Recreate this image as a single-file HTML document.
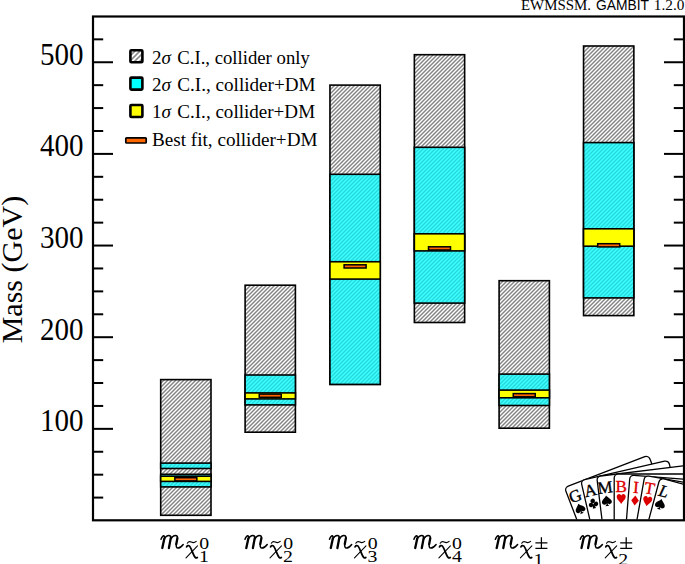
<!DOCTYPE html>
<html><head><meta charset="utf-8"><style>
html,body{margin:0;padding:0;background:#fff;}
svg{display:block;}
text{font-family:"Liberation Serif",serif;fill:#000;}
.tl{font-size:30.5px;}
.al{font-size:30px;}
.hd{font-size:14.2px;}
.hs{font-size:14px;font-family:"Liberation Sans",sans-serif;}
.lg{font-size:19px;}
.xm{font-size:29px;font-style:italic;}
.xc{font-size:20.5px;font-style:italic;}
.xs{font-size:16.5px;}
.cd{font-size:17px;}
.cdl{font-size:17px;font-style:italic;}
</style></head><body>
<svg width="685" height="564" viewBox="0 0 685 564">
<defs>
<pattern id="hg" patternUnits="userSpaceOnUse" width="4" height="4">
<rect width="4" height="4" fill="#fff"/>
<path d="M-1,1 l2,-2 M0,4 l4,-4 M3,5 l2,-2" stroke="#848484" stroke-width="1.45"/>
</pattern>
<pattern id="hgl" patternUnits="userSpaceOnUse" width="5" height="5" x="1">
<rect width="5" height="5" fill="#fff"/>
<path d="M-1,1 l2,-2 M0,5 l5,-5 M4,6 l2,-2" stroke="#8c8c8c" stroke-width="1.6"/>
</pattern>
<pattern id="hc" patternUnits="userSpaceOnUse" width="4" height="4">
<rect width="4" height="4" fill="#3cffff"/>
<path d="M-1,1 l2,-2 M0,4 l4,-4 M3,5 l2,-2" stroke="#26d8dc" stroke-width="1.4"/>
</pattern>
<clipPath id="lc"><rect x="540" y="440" width="143" height="79.5"/></clipPath>
</defs>
<rect x="160.70" y="379.6" width="50.3" height="135.70" fill="url(#hg)" stroke="#000" stroke-width="1.6"/>
<rect x="160.70" y="463.1" width="50.3" height="5.40" fill="url(#hc)" stroke="#000" stroke-width="1.6"/>
<rect x="160.70" y="474.3" width="50.3" height="12.60" fill="url(#hc)" stroke="#000" stroke-width="1.6"/>
<rect x="160.70" y="476.2" width="50.3" height="5.20" fill="#ffff00" stroke="#000" stroke-width="1.6"/>
<rect x="174.85" y="477.70" width="22" height="3.2" fill="#ff6600" stroke="#000" stroke-width="1.5"/>
<rect x="245.10" y="285.2" width="50.3" height="147.00" fill="url(#hg)" stroke="#000" stroke-width="1.6"/>
<rect x="245.10" y="375.0" width="50.3" height="29.90" fill="url(#hc)" stroke="#000" stroke-width="1.6"/>
<rect x="245.10" y="392.9" width="50.3" height="6.00" fill="#ffff00" stroke="#000" stroke-width="1.6"/>
<rect x="259.25" y="394.10" width="22" height="3.2" fill="#ff6600" stroke="#000" stroke-width="1.5"/>
<rect x="329.95" y="85.1" width="50.3" height="299.30" fill="url(#hg)" stroke="#000" stroke-width="1.6"/>
<rect x="329.95" y="174.3" width="50.3" height="210.10" fill="url(#hc)" stroke="#000" stroke-width="1.6"/>
<rect x="329.95" y="261.75" width="50.3" height="17.35" fill="#ffff00" stroke="#000" stroke-width="1.6"/>
<rect x="344.10" y="264.80" width="22" height="3.2" fill="#ff6600" stroke="#000" stroke-width="1.5"/>
<rect x="414.35" y="54.7" width="50.3" height="267.80" fill="url(#hg)" stroke="#000" stroke-width="1.6"/>
<rect x="414.35" y="147.3" width="50.3" height="155.80" fill="url(#hc)" stroke="#000" stroke-width="1.6"/>
<rect x="414.35" y="233.8" width="50.3" height="17.10" fill="#ffff00" stroke="#000" stroke-width="1.6"/>
<rect x="428.50" y="246.80" width="22" height="3.2" fill="#ff6600" stroke="#000" stroke-width="1.5"/>
<rect x="499.10" y="280.7" width="50.3" height="147.50" fill="url(#hg)" stroke="#000" stroke-width="1.6"/>
<rect x="499.10" y="374.1" width="50.3" height="31.40" fill="url(#hc)" stroke="#000" stroke-width="1.6"/>
<rect x="499.10" y="390.1" width="50.3" height="7.70" fill="#ffff00" stroke="#000" stroke-width="1.6"/>
<rect x="513.25" y="393.60" width="22" height="3.2" fill="#ff6600" stroke="#000" stroke-width="1.5"/>
<rect x="583.55" y="46.0" width="50.3" height="269.60" fill="url(#hg)" stroke="#000" stroke-width="1.6"/>
<rect x="583.55" y="142.6" width="50.3" height="155.30" fill="url(#hc)" stroke="#000" stroke-width="1.6"/>
<rect x="583.55" y="228.8" width="50.3" height="17.40" fill="#ffff00" stroke="#000" stroke-width="1.6"/>
<rect x="597.70" y="243.70" width="22" height="3.2" fill="#ff6600" stroke="#000" stroke-width="1.5"/>
<line x1="93" y1="497.59" x2="103.2" y2="497.59" stroke="#000" stroke-width="2"/>
<line x1="684" y1="497.59" x2="673.8" y2="497.59" stroke="#000" stroke-width="2"/>
<line x1="93" y1="474.68" x2="103.2" y2="474.68" stroke="#000" stroke-width="2"/>
<line x1="684" y1="474.68" x2="673.8" y2="474.68" stroke="#000" stroke-width="2"/>
<line x1="93" y1="451.76" x2="103.2" y2="451.76" stroke="#000" stroke-width="2"/>
<line x1="684" y1="451.76" x2="673.8" y2="451.76" stroke="#000" stroke-width="2"/>
<line x1="93" y1="428.85" x2="113" y2="428.85" stroke="#000" stroke-width="2"/>
<line x1="684" y1="428.85" x2="664" y2="428.85" stroke="#000" stroke-width="2"/>
<line x1="93" y1="405.94" x2="103.2" y2="405.94" stroke="#000" stroke-width="2"/>
<line x1="684" y1="405.94" x2="673.8" y2="405.94" stroke="#000" stroke-width="2"/>
<line x1="93" y1="383.02" x2="103.2" y2="383.02" stroke="#000" stroke-width="2"/>
<line x1="684" y1="383.02" x2="673.8" y2="383.02" stroke="#000" stroke-width="2"/>
<line x1="93" y1="360.11" x2="103.2" y2="360.11" stroke="#000" stroke-width="2"/>
<line x1="684" y1="360.11" x2="673.8" y2="360.11" stroke="#000" stroke-width="2"/>
<line x1="93" y1="337.20" x2="113" y2="337.20" stroke="#000" stroke-width="2"/>
<line x1="684" y1="337.20" x2="664" y2="337.20" stroke="#000" stroke-width="2"/>
<line x1="93" y1="314.29" x2="103.2" y2="314.29" stroke="#000" stroke-width="2"/>
<line x1="684" y1="314.29" x2="673.8" y2="314.29" stroke="#000" stroke-width="2"/>
<line x1="93" y1="291.38" x2="103.2" y2="291.38" stroke="#000" stroke-width="2"/>
<line x1="684" y1="291.38" x2="673.8" y2="291.38" stroke="#000" stroke-width="2"/>
<line x1="93" y1="268.46" x2="103.2" y2="268.46" stroke="#000" stroke-width="2"/>
<line x1="684" y1="268.46" x2="673.8" y2="268.46" stroke="#000" stroke-width="2"/>
<line x1="93" y1="245.55" x2="113" y2="245.55" stroke="#000" stroke-width="2"/>
<line x1="684" y1="245.55" x2="664" y2="245.55" stroke="#000" stroke-width="2"/>
<line x1="93" y1="222.64" x2="103.2" y2="222.64" stroke="#000" stroke-width="2"/>
<line x1="684" y1="222.64" x2="673.8" y2="222.64" stroke="#000" stroke-width="2"/>
<line x1="93" y1="199.73" x2="103.2" y2="199.73" stroke="#000" stroke-width="2"/>
<line x1="684" y1="199.73" x2="673.8" y2="199.73" stroke="#000" stroke-width="2"/>
<line x1="93" y1="176.81" x2="103.2" y2="176.81" stroke="#000" stroke-width="2"/>
<line x1="684" y1="176.81" x2="673.8" y2="176.81" stroke="#000" stroke-width="2"/>
<line x1="93" y1="153.90" x2="113" y2="153.90" stroke="#000" stroke-width="2"/>
<line x1="684" y1="153.90" x2="664" y2="153.90" stroke="#000" stroke-width="2"/>
<line x1="93" y1="130.99" x2="103.2" y2="130.99" stroke="#000" stroke-width="2"/>
<line x1="684" y1="130.99" x2="673.8" y2="130.99" stroke="#000" stroke-width="2"/>
<line x1="93" y1="108.07" x2="103.2" y2="108.07" stroke="#000" stroke-width="2"/>
<line x1="684" y1="108.07" x2="673.8" y2="108.07" stroke="#000" stroke-width="2"/>
<line x1="93" y1="85.16" x2="103.2" y2="85.16" stroke="#000" stroke-width="2"/>
<line x1="684" y1="85.16" x2="673.8" y2="85.16" stroke="#000" stroke-width="2"/>
<line x1="93" y1="62.25" x2="113" y2="62.25" stroke="#000" stroke-width="2"/>
<line x1="684" y1="62.25" x2="664" y2="62.25" stroke="#000" stroke-width="2"/>
<line x1="93" y1="39.34" x2="103.2" y2="39.34" stroke="#000" stroke-width="2"/>
<line x1="684" y1="39.34" x2="673.8" y2="39.34" stroke="#000" stroke-width="2"/>
<g clip-path="url(#lc)">
<g transform="translate(564.5,487.5) rotate(-21)">
<rect x="0" y="0" width="90" height="90" rx="4" fill="#fff" stroke="#000" stroke-width="1.3"/>
<text x="7" y="17.5" text-anchor="middle" class="cd" style="fill:#000;stroke:#000;stroke-width:0.35">G</text>
<path transform="translate(7,25)" d="M0,-5 C-1,-3 -5,-1 -5,1.5 C-5,3.5 -3.5,4 -2.5,4 C-1.5,4 -0.6,3.4 -0.3,2.8 C-0.5,4 -1.2,5 -2,5.5 L2,5.5 C1.2,5 0.5,4 0.3,2.8 C0.6,3.4 1.5,4 2.5,4 C3.5,4 5,3.5 5,1.5 C5,-1 1,-3 0,-5 Z" fill="#000"/>
</g>
<g transform="translate(580.8,480.5) rotate(-13)">
<rect x="0" y="0" width="90" height="90" rx="4" fill="#fff" stroke="#000" stroke-width="1.3"/>
<text x="7" y="17.5" text-anchor="middle" class="cd" style="fill:#000;stroke:#000;stroke-width:0.35">A</text>
<g transform="translate(7,25)" fill="#000"><circle cx="0" cy="-2.4" r="2.3"/><circle cx="-2.5" cy="1.2" r="2.3"/><circle cx="2.5" cy="1.2" r="2.3"/><path d="M-0.5,1 L-1.6,5.3 L1.6,5.3 L0.5,1 Z"/></g>
</g>
<g transform="translate(596.7,476.5) rotate(-7)">
<rect x="0" y="0" width="96" height="90" rx="4" fill="#fff" stroke="#000" stroke-width="1.3"/>
<text x="7" y="17.5" text-anchor="middle" class="cd" style="fill:#000;stroke:#000;stroke-width:0.35">M</text>
<path transform="translate(7,25)" d="M0,-5 C-1,-3 -5,-1 -5,1.5 C-5,3.5 -3.5,4 -2.5,4 C-1.5,4 -0.6,3.4 -0.3,2.8 C-0.5,4 -1.2,5 -2,5.5 L2,5.5 C1.2,5 0.5,4 0.3,2.8 C0.6,3.4 1.5,4 2.5,4 C3.5,4 5,3.5 5,1.5 C5,-1 1,-3 0,-5 Z" fill="#000"/>
</g>
<g transform="translate(614.2,474.0) rotate(0)">
<rect x="0" y="0" width="96" height="90" rx="4" fill="#fff" stroke="#000" stroke-width="1.3"/>
<text x="7" y="17.5" text-anchor="middle" class="cd" style="fill:#d00;stroke:#d00;stroke-width:0.35">B</text>
<path transform="translate(7,25)" d="M0,5 C-1,3 -4.5,0.5 -4.5,-2.2 C-4.5,-4.2 -3.2,-5 -2.2,-5 C-1,-5 -0.3,-4.2 0,-3.2 C0.3,-4.2 1,-5 2.2,-5 C3.2,-5 4.5,-4.2 4.5,-2.2 C4.5,0.5 1,3 0,5 Z" fill="#d00"/>
</g>
<g transform="translate(630.0,475.0) rotate(4.5)">
<rect x="0" y="0" width="96" height="90" rx="4" fill="#fff" stroke="#000" stroke-width="1.3"/>
<text x="7" y="17.5" text-anchor="middle" class="cd" style="fill:#d00;stroke:#d00;stroke-width:0.35">I</text>
<path transform="translate(7,25)" d="M0,-5 L3.8,0 L0,5 L-3.8,0 Z" fill="#d00"/>
</g>
<g transform="translate(644.8,475.4) rotate(10)">
<rect x="0" y="0" width="96" height="90" rx="4" fill="#fff" stroke="#000" stroke-width="1.3"/>
<text x="7" y="17.5" text-anchor="middle" class="cd" style="fill:#d00;stroke:#d00;stroke-width:0.35">T</text>
<path transform="translate(7,25)" d="M0,5 C-1,3 -4.5,0.5 -4.5,-2.2 C-4.5,-4.2 -3.2,-5 -2.2,-5 C-1,-5 -0.3,-4.2 0,-3.2 C0.3,-4.2 1,-5 2.2,-5 C3.2,-5 4.5,-4.2 4.5,-2.2 C4.5,0.5 1,3 0,5 Z" fill="#d00"/>
</g>
<g transform="translate(660.0,477.9) rotate(15)">
<rect x="0" y="0" width="96" height="90" rx="4" fill="#fff" stroke="#000" stroke-width="1.3"/>
<text x="7" y="17.5" text-anchor="middle" class="cdl" style="fill:#000;stroke:#000;stroke-width:0.35">L</text>
<path transform="translate(7,25)" d="M0,-5 C-1,-3 -5,-1 -5,1.5 C-5,3.5 -3.5,4 -2.5,4 C-1.5,4 -0.6,3.4 -0.3,2.8 C-0.5,4 -1.2,5 -2,5.5 L2,5.5 C1.2,5 0.5,4 0.3,2.8 C0.6,3.4 1.5,4 2.5,4 C3.5,4 5,3.5 5,1.5 C5,-1 1,-3 0,-5 Z" fill="#000"/>
</g>
</g>
<rect x="93" y="16.5" width="591" height="503.8" fill="none" stroke="#000" stroke-width="2.2"/>
<text x="83.5" y="431.25" text-anchor="end" class="tl" textLength="43.5" lengthAdjust="spacingAndGlyphs">100</text>
<text x="83.5" y="339.60" text-anchor="end" class="tl" textLength="43.5" lengthAdjust="spacingAndGlyphs">200</text>
<text x="83.5" y="247.95" text-anchor="end" class="tl" textLength="43.5" lengthAdjust="spacingAndGlyphs">300</text>
<text x="83.5" y="156.30" text-anchor="end" class="tl" textLength="43.5" lengthAdjust="spacingAndGlyphs">400</text>
<text x="83.5" y="64.65" text-anchor="end" class="tl" textLength="43.5" lengthAdjust="spacingAndGlyphs">500</text>
<text transform="translate(22,269.6) rotate(-90)" text-anchor="middle" class="al">Mass (GeV)</text>
<text x="521" y="10.3" class="hd" textLength="70" lengthAdjust="spacingAndGlyphs">EWMSSM.</text>
<text x="596" y="10.3" class="hs" textLength="53" lengthAdjust="spacingAndGlyphs">GAMBIT</text>
<text x="653.8" y="10.3" class="hd" textLength="30.6" lengthAdjust="spacingAndGlyphs">1.2.0</text>
<rect x="130.4" y="50.2" width="12" height="12" fill="url(#hgl)" stroke="#000" stroke-width="2.6" rx="1"/>
<rect x="130.4" y="77.6" width="12" height="12" fill="#00ffff" stroke="#000" stroke-width="2.6" rx="1"/>
<rect x="130.4" y="105" width="12" height="12" fill="#ffff00" stroke="#000" stroke-width="2.6" rx="1"/>
<rect x="125.8" y="137.8" width="20.4" height="5.2" fill="#ff6600" stroke="#000" stroke-width="1.7" rx="0.8"/>
<text x="152" y="63.5" class="lg">2<tspan font-style="italic">σ</tspan></text>
<text x="177.3" y="63.5" class="lg" textLength="132.5" lengthAdjust="spacingAndGlyphs">C.I., collider only</text>
<text x="152" y="90.9" class="lg">2<tspan font-style="italic">σ</tspan></text>
<text x="177.3" y="90.9" class="lg" textLength="138.3" lengthAdjust="spacingAndGlyphs">C.I., collider+DM</text>
<text x="152" y="118.2" class="lg">1<tspan font-style="italic">σ</tspan></text>
<text x="177.3" y="118.2" class="lg" textLength="137.8" lengthAdjust="spacingAndGlyphs">C.I., collider+DM</text>
<text x="152" y="145.7" class="lg" textLength="165.5" lengthAdjust="spacingAndGlyphs">Best fit, collider+DM</text>
<g transform="translate(160.7,548.5)" fill="none" stroke="#000" stroke-linecap="round" stroke-linejoin="round"><path d="M0.3,-9.2 C1.2,-11.5 2.5,-13.2 3.4,-12.6 C4.2,-12 3.9,-10.8 3.6,-9.6 M3.6,-9.6 C5,-12 6.5,-13 8,-13 C9.8,-13 10.3,-11.8 10,-10.5 M10.2,-9.6 C11.6,-12 13,-13 14.6,-13 C16.4,-13 17,-11.8 16.7,-10.3 M15.6,-4.5 C15.3,-2.8 15.6,-0.4 17.3,-0.4 C19,-0.4 20.5,-1.5 22.5,-4" stroke-width="1.5"/><path d="M3.6,-9.8 L1.6,-0.5 M10.1,-10.6 L8.2,-0.5 M16.7,-10.4 L15.6,-4.5" stroke-width="2.3"/><path d="M25.3,9.4 L36.8,-2.7" stroke-width="1.05"/><path d="M25.9,-1.6 C26.6,-2.8 27.7,-3.3 28.6,-2.6 C29.6,-1.8 30.5,0.5 31.6,3.2 C32.6,5.8 33.6,8.3 34.6,9 C35.3,9.5 36,9.4 36.6,9" stroke-width="1.8"/><path d="M26.6,-5.3 C27.6,-6.8 29,-7.2 30.6,-6.4 C32.2,-5.6 33.8,-5.6 35.5,-7.2" stroke-width="1.15"/></g>
<text transform="translate(199.2,549.2) scale(1.2,1)" class="xs">0</text>
<text transform="translate(199.0,562.3) scale(1.2,1)" class="xs">1</text>
<g transform="translate(244.7,548.5)" fill="none" stroke="#000" stroke-linecap="round" stroke-linejoin="round"><path d="M0.3,-9.2 C1.2,-11.5 2.5,-13.2 3.4,-12.6 C4.2,-12 3.9,-10.8 3.6,-9.6 M3.6,-9.6 C5,-12 6.5,-13 8,-13 C9.8,-13 10.3,-11.8 10,-10.5 M10.2,-9.6 C11.6,-12 13,-13 14.6,-13 C16.4,-13 17,-11.8 16.7,-10.3 M15.6,-4.5 C15.3,-2.8 15.6,-0.4 17.3,-0.4 C19,-0.4 20.5,-1.5 22.5,-4" stroke-width="1.5"/><path d="M3.6,-9.8 L1.6,-0.5 M10.1,-10.6 L8.2,-0.5 M16.7,-10.4 L15.6,-4.5" stroke-width="2.3"/><path d="M25.3,9.4 L36.8,-2.7" stroke-width="1.05"/><path d="M25.9,-1.6 C26.6,-2.8 27.7,-3.3 28.6,-2.6 C29.6,-1.8 30.5,0.5 31.6,3.2 C32.6,5.8 33.6,8.3 34.6,9 C35.3,9.5 36,9.4 36.6,9" stroke-width="1.8"/><path d="M26.6,-5.3 C27.6,-6.8 29,-7.2 30.6,-6.4 C32.2,-5.6 33.8,-5.6 35.5,-7.2" stroke-width="1.15"/></g>
<text transform="translate(283.2,549.2) scale(1.2,1)" class="xs">0</text>
<text transform="translate(283.0,562.3) scale(1.2,1)" class="xs">2</text>
<g transform="translate(329.2,548.5)" fill="none" stroke="#000" stroke-linecap="round" stroke-linejoin="round"><path d="M0.3,-9.2 C1.2,-11.5 2.5,-13.2 3.4,-12.6 C4.2,-12 3.9,-10.8 3.6,-9.6 M3.6,-9.6 C5,-12 6.5,-13 8,-13 C9.8,-13 10.3,-11.8 10,-10.5 M10.2,-9.6 C11.6,-12 13,-13 14.6,-13 C16.4,-13 17,-11.8 16.7,-10.3 M15.6,-4.5 C15.3,-2.8 15.6,-0.4 17.3,-0.4 C19,-0.4 20.5,-1.5 22.5,-4" stroke-width="1.5"/><path d="M3.6,-9.8 L1.6,-0.5 M10.1,-10.6 L8.2,-0.5 M16.7,-10.4 L15.6,-4.5" stroke-width="2.3"/><path d="M25.3,9.4 L36.8,-2.7" stroke-width="1.05"/><path d="M25.9,-1.6 C26.6,-2.8 27.7,-3.3 28.6,-2.6 C29.6,-1.8 30.5,0.5 31.6,3.2 C32.6,5.8 33.6,8.3 34.6,9 C35.3,9.5 36,9.4 36.6,9" stroke-width="1.8"/><path d="M26.6,-5.3 C27.6,-6.8 29,-7.2 30.6,-6.4 C32.2,-5.6 33.8,-5.6 35.5,-7.2" stroke-width="1.15"/></g>
<text transform="translate(367.7,549.2) scale(1.2,1)" class="xs">0</text>
<text transform="translate(367.5,562.3) scale(1.2,1)" class="xs">3</text>
<g transform="translate(413.6,548.5)" fill="none" stroke="#000" stroke-linecap="round" stroke-linejoin="round"><path d="M0.3,-9.2 C1.2,-11.5 2.5,-13.2 3.4,-12.6 C4.2,-12 3.9,-10.8 3.6,-9.6 M3.6,-9.6 C5,-12 6.5,-13 8,-13 C9.8,-13 10.3,-11.8 10,-10.5 M10.2,-9.6 C11.6,-12 13,-13 14.6,-13 C16.4,-13 17,-11.8 16.7,-10.3 M15.6,-4.5 C15.3,-2.8 15.6,-0.4 17.3,-0.4 C19,-0.4 20.5,-1.5 22.5,-4" stroke-width="1.5"/><path d="M3.6,-9.8 L1.6,-0.5 M10.1,-10.6 L8.2,-0.5 M16.7,-10.4 L15.6,-4.5" stroke-width="2.3"/><path d="M25.3,9.4 L36.8,-2.7" stroke-width="1.05"/><path d="M25.9,-1.6 C26.6,-2.8 27.7,-3.3 28.6,-2.6 C29.6,-1.8 30.5,0.5 31.6,3.2 C32.6,5.8 33.6,8.3 34.6,9 C35.3,9.5 36,9.4 36.6,9" stroke-width="1.8"/><path d="M26.6,-5.3 C27.6,-6.8 29,-7.2 30.6,-6.4 C32.2,-5.6 33.8,-5.6 35.5,-7.2" stroke-width="1.15"/></g>
<text transform="translate(452.1,549.2) scale(1.2,1)" class="xs">0</text>
<text transform="translate(451.9,562.3) scale(1.2,1)" class="xs">4</text>
<g transform="translate(495.1,548.5)" fill="none" stroke="#000" stroke-linecap="round" stroke-linejoin="round"><path d="M0.3,-9.2 C1.2,-11.5 2.5,-13.2 3.4,-12.6 C4.2,-12 3.9,-10.8 3.6,-9.6 M3.6,-9.6 C5,-12 6.5,-13 8,-13 C9.8,-13 10.3,-11.8 10,-10.5 M10.2,-9.6 C11.6,-12 13,-13 14.6,-13 C16.4,-13 17,-11.8 16.7,-10.3 M15.6,-4.5 C15.3,-2.8 15.6,-0.4 17.3,-0.4 C19,-0.4 20.5,-1.5 22.5,-4" stroke-width="1.5"/><path d="M3.6,-9.8 L1.6,-0.5 M10.1,-10.6 L8.2,-0.5 M16.7,-10.4 L15.6,-4.5" stroke-width="2.3"/><path d="M25.3,9.4 L36.8,-2.7" stroke-width="1.05"/><path d="M25.9,-1.6 C26.6,-2.8 27.7,-3.3 28.6,-2.6 C29.6,-1.8 30.5,0.5 31.6,3.2 C32.6,5.8 33.6,8.3 34.6,9 C35.3,9.5 36,9.4 36.6,9" stroke-width="1.8"/><path d="M26.6,-5.3 C27.6,-6.8 29,-7.2 30.6,-6.4 C32.2,-5.6 33.8,-5.6 35.5,-7.2" stroke-width="1.15"/></g>
<path transform="translate(495.1,548.5)" d="M40.3,-5.7 H52.3 M46.3,-11.3 V-0.1 M40.3,-0.1 H52.3" stroke="#000" stroke-width="1.25" fill="none"/>
<text transform="translate(533.4,565.3) scale(1.2,1)" class="xs">1</text>
<g transform="translate(579.9,548.5)" fill="none" stroke="#000" stroke-linecap="round" stroke-linejoin="round"><path d="M0.3,-9.2 C1.2,-11.5 2.5,-13.2 3.4,-12.6 C4.2,-12 3.9,-10.8 3.6,-9.6 M3.6,-9.6 C5,-12 6.5,-13 8,-13 C9.8,-13 10.3,-11.8 10,-10.5 M10.2,-9.6 C11.6,-12 13,-13 14.6,-13 C16.4,-13 17,-11.8 16.7,-10.3 M15.6,-4.5 C15.3,-2.8 15.6,-0.4 17.3,-0.4 C19,-0.4 20.5,-1.5 22.5,-4" stroke-width="1.5"/><path d="M3.6,-9.8 L1.6,-0.5 M10.1,-10.6 L8.2,-0.5 M16.7,-10.4 L15.6,-4.5" stroke-width="2.3"/><path d="M25.3,9.4 L36.8,-2.7" stroke-width="1.05"/><path d="M25.9,-1.6 C26.6,-2.8 27.7,-3.3 28.6,-2.6 C29.6,-1.8 30.5,0.5 31.6,3.2 C32.6,5.8 33.6,8.3 34.6,9 C35.3,9.5 36,9.4 36.6,9" stroke-width="1.8"/><path d="M26.6,-5.3 C27.6,-6.8 29,-7.2 30.6,-6.4 C32.2,-5.6 33.8,-5.6 35.5,-7.2" stroke-width="1.15"/></g>
<path transform="translate(579.9,548.5)" d="M40.3,-5.7 H52.3 M46.3,-11.3 V-0.1 M40.3,-0.1 H52.3" stroke="#000" stroke-width="1.25" fill="none"/>
<text transform="translate(618.2,565.3) scale(1.2,1)" class="xs">2</text>
</svg>
</body></html>
